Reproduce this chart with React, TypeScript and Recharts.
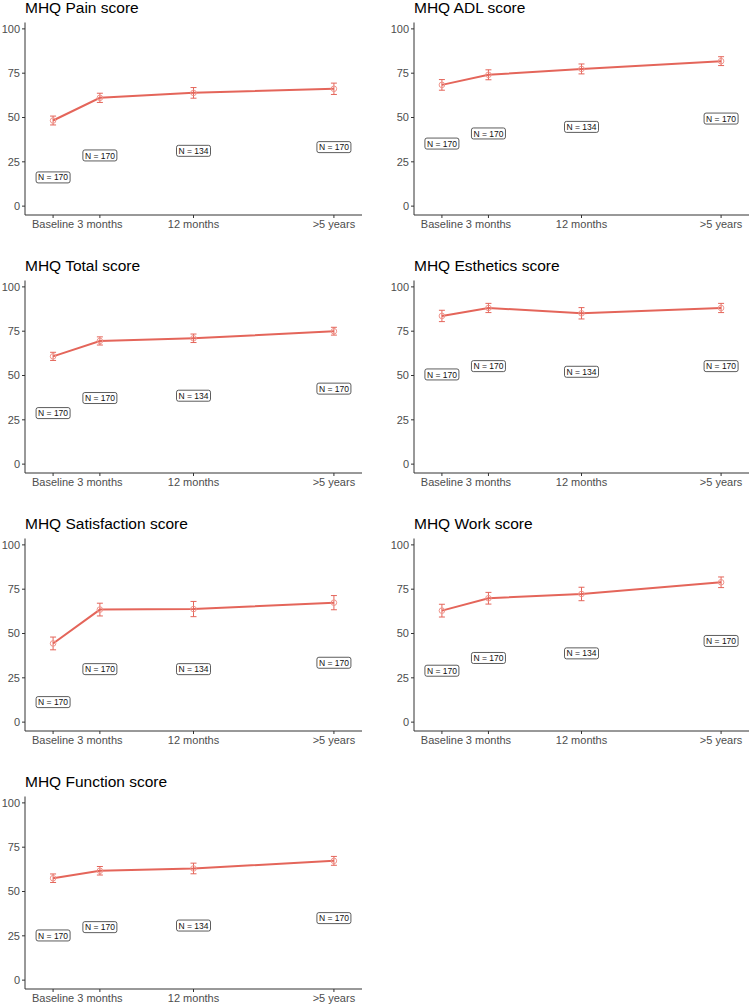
import { ErrorBar, Line, LineChart, XAxis, YAxis } from "recharts";

const timepoints = ["Baseline", "3 months", "12 months", ">5 years"];
const timeX = [0, 1, 3, 6];
const counts = [170, 170, 134, 170];
const yTicks = [0, 25, 50, 75, 100];

const titles = [
  "MHQ Pain score",
  "MHQ ADL score",
  "MHQ Total score",
  "MHQ Esthetics score",
  "MHQ Satisfaction score",
  "MHQ Work score",
  "MHQ Function score",
];

const painMean = [48.3, 61.1, 63.9, 66.2];
const painErr = [2.5, 2.6, 3.0, 3.2];
const painLabelY = [16.2, 28.6, 31.2, 33.3];

const adlMean = [68.4, 74.1, 77.4, 81.8];
const adlErr = [3.0, 2.8, 2.8, 2.5];
const adlLabelY = [35.3, 41.0, 44.7, 49.4];

const totalMean = [60.8, 69.5, 71.0, 75.0];
const totalErr = [2.3, 2.3, 2.4, 2.2];
const totalLabelY = [28.8, 37.3, 38.6, 42.6];

const estheticsMean = [83.6, 88.1, 85.1, 88.1];
const estheticsErr = [3.2, 2.6, 3.2, 2.6];
const estheticsLabelY = [50.6, 55.3, 52.1, 55.3];

const satisfactionMean = [44.4, 63.5, 63.8, 67.4];
const satisfactionErr = [3.6, 3.6, 4.3, 4.0];
const satisfactionLabelY = [11.3, 29.9, 29.9, 33.5];

const workMean = [62.9, 69.9, 72.3, 78.9];
const workErr = [3.6, 3.3, 3.8, 3.0];
const workLabelY = [29.0, 36.2, 38.8, 45.8];

const functionMean = [57.5, 61.7, 63.0, 67.3];
const functionErr = [2.4, 2.4, 3.0, 2.5];
const functionLabelY = [25.2, 29.9, 30.8, 35.0];

const series = [
  [painMean, painErr, painLabelY],
  [adlMean, adlErr, adlLabelY],
  [totalMean, totalErr, totalLabelY],
  [estheticsMean, estheticsErr, estheticsLabelY],
  [satisfactionMean, satisfactionErr, satisfactionLabelY],
  [workMean, workErr, workLabelY],
  [functionMean, functionErr, functionLabelY],
];

const RED = "#E4655A";
const FONT = "'Liberation Sans', Arial, sans-serif";

const NLabel = (props: any) => {
  const { cx, cy, payload, index } = props;
  if (cx == null || cy == null) return null;
  return (
    <g key={`nl-${index}`}>
      <rect
        x={cx - 17}
        y={cy - 5.5}
        width={34}
        height={11}
        rx={2}
        fill="#fff"
        stroke="#333"
        strokeWidth={0.8}
      />
      <text
        x={cx}
        y={cy}
        dy="0.36em"
        textAnchor="middle"
        fontSize={8.5}
        fontFamily={FONT}
        fill="#111"
      >
        {`N = ${payload.n}`}
      </text>
    </g>
  );
};

const MeanDot = (props: any) => {
  const { cx, cy, index } = props;
  if (cx == null || cy == null) return null;
  return (
    <circle
      key={`md-${index}`}
      cx={cx}
      cy={cy}
      r={2.8}
      fill="none"
      stroke="#F0958C"
      strokeWidth={1}
    />
  );
};

function Panel({ idx }: { idx: number }) {
  const col = idx % 2;
  const row = Math.floor(idx / 2);
  const [mean, err, labelY] = series[idx];
  const data = timeX.map((x, i) => ({
    x,
    mean: mean[i],
    err: err[i],
    labelY: labelY[i],
    n: counts[i],
  }));
  const left = col * 389;
  const top = row * 258;
  const width = col === 0 ? 380 : 366;
  const rightMargin = col === 0 ? 18 : 6;

  return (
    <div style={{ position: "absolute", left, top, width, height: 245 }}>
      <div
        style={{
          position: "absolute",
          left: 25,
          top: 0,
          fontFamily: FONT,
          fontSize: 15.5,
          lineHeight: "15.5px",
          color: "#000",
          whiteSpace: "nowrap",
        }}
      >
        {titles[idx]}
      </div>
      <LineChart
        width={width}
        height={245}
        data={data}
        margin={{ top: 22.5, right: rightMargin, bottom: 0, left: 0 }}
      >
        <XAxis
          dataKey="x"
          type="number"
          domain={[-0.6, 6.6]}
          ticks={timeX}
          interval={0}
          tickFormatter={(v: number) => timepoints[timeX.indexOf(v)]}
          height={30}
          tickSize={3}
          tickMargin={2}
          stroke="#333"
          tick={{ fontSize: 11, fill: "#4D4D4D", fontFamily: FONT }}
        />
        <YAxis
          type="number"
          domain={[-5, 103.6]}
          ticks={yTicks}
          width={25}
          tickSize={3}
          tickMargin={2}
          stroke="#333"
          tick={{ fontSize: 11, fill: "#4D4D4D", fontFamily: FONT }}
        />
        <Line
          dataKey="mean"
          stroke={RED}
          strokeWidth={2}
          dot={MeanDot}
          activeDot={false}
          isAnimationActive={false}
        >
          <ErrorBar
            dataKey="err"
            direction="y"
            width={3}
            stroke={RED}
            strokeWidth={1}
            isAnimationActive={false}
          />
        </Line>
        <Line
          dataKey="labelY"
          stroke="none"
          dot={NLabel}
          activeDot={false}
          isAnimationActive={false}
        />
      </LineChart>
    </div>
  );
}

export default function App() {
  return (
    <div
      style={{
        position: "absolute",
        left: 0,
        top: 0,
        width: 755,
        height: 1007,
        overflow: "hidden",
        background: "#fff",
      }}
    >
      {titles.map((_, i) => (
        <Panel key={i} idx={i} />
      ))}
    </div>
  );
}
